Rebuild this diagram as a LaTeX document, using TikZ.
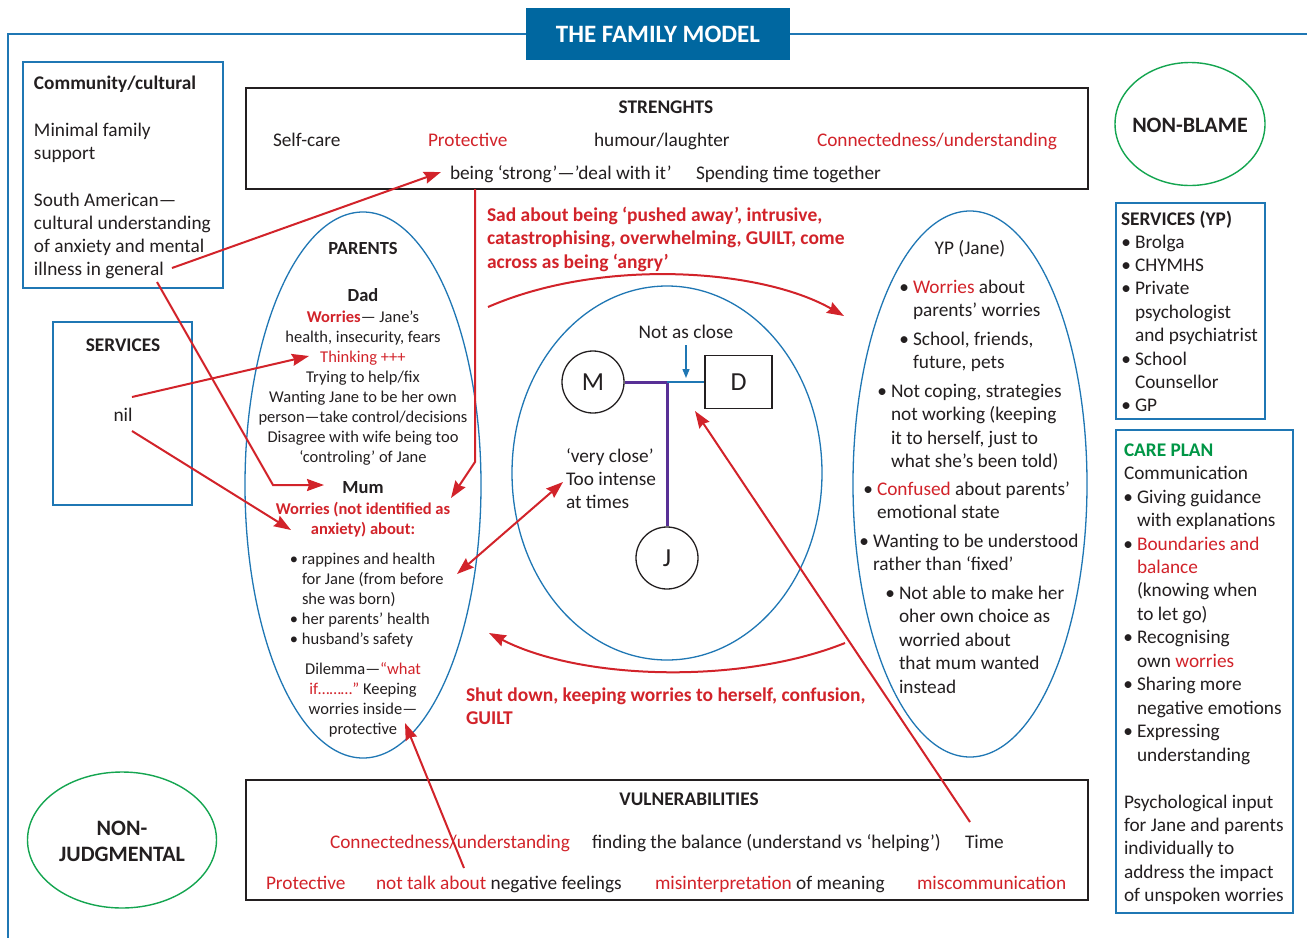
\documentclass[tikz,border=0pt]{standalone}
\usepackage{fontspec}
\setmainfont{Carlito}
\usetikzlibrary{shapes.geometric,arrows.meta}
\definecolor{fblue}{RGB}{31,119,180}
\definecolor{tblue}{RGB}{0,103,160}
\definecolor{fred}{RGB}{210,35,42}
\definecolor{fgreen}{RGB}{20,165,80}
\definecolor{cgreen}{RGB}{0,150,70}
\definecolor{ink}{RGB}{35,31,32}
\definecolor{fpurple}{RGB}{88,48,150}
\newcommand{\mybul}{\llap{•\hspace{4pt}}}
\newcommand{\rd}[1]{\textcolor{fred}{#1}}
\tikzset{
  tx/.style n args={3}{font=\fontsize{#1}{#2}\selectfont#3, inner sep=0pt, outer sep=0pt, yshift={(0.7*#2-0.3*#1-1.3)*1pt}},
  ta/.style={tx={19.3}{23.3}{}},
  tab/.style={tx={19.3}{23.3}{\bfseries}},
  ty/.style={tx={19.3}{23.5}{}},
  tp/.style={tx={16.5}{20}{}},
  tpb/.style={tx={16.5}{20}{\bfseries}},
  thb/.style={tx={18.5}{22}{\bfseries}},
  tr/.style={tx={19.5}{23.5}{\bfseries}, text=fred},
  lft/.style={anchor=north west, align=left},
  ctr/.style={anchor=north, align=center},
  outerframe/.style={draw=fblue, line width=1.4pt},
  bluebox/.style={draw=fblue, line width=1.6pt, inner sep=0pt},
  blackbox/.style={draw=ink, line width=1.4pt, inner sep=0pt},
  oval/.style={ellipse, draw=fblue, line width=1.3pt, inner sep=0pt},
  greenoval/.style={ellipse, draw=fgreen, line width=1.4pt, inner sep=0pt},
  person/.style={draw=ink, line width=1.3pt, inner sep=0pt, font=\fontsize{26}{30}\selectfont},
  rarrow/.style={draw=fred, line width=2pt, -{Stealth[length=17pt,width=12pt,inset=2pt]}},
  rdouble/.style={draw=fred, line width=2pt, {Stealth[length=17pt,width=12pt,inset=2pt]}-{Stealth[length=17pt,width=12pt,inset=2pt]}},
}
\begin{document}
\begin{tikzpicture}[x=1pt,y=-1pt, every node/.append style={text=ink}]
\useasboundingbox (0,0) rectangle (1307,938);
\fill[white] (0,0) rectangle (1307,938);
\draw[outerframe] (1307,34) -- (8,34) -- (8,938);
\node[fill=tblue, minimum width=264pt, minimum height=52pt, inner sep=0pt, text=white, font=\fontsize{25}{29}\selectfont\bfseries] (title) at (658,34) {THE FAMILY MODEL};

% boxes and ovals
\node[bluebox, minimum width=200pt, minimum height=226pt] (comm) at (123,175) {};
\node[bluebox, minimum width=139pt, minimum height=183pt] (serv) at (122.5,413.5) {};
\node[blackbox, minimum width=842pt, minimum height=101pt] (str) at (667,138.5) {};
\node[blackbox, minimum width=842pt, minimum height=120pt] (vul) at (667,840) {};
\node[bluebox, minimum width=149pt, minimum height=216pt] (servyp) at (1190.5,311) {};
\node[bluebox, minimum width=177pt, minimum height=483pt] (care) at (1204.5,671.5) {};
\node[greenoval, minimum width=150pt, minimum height=123pt] (nonblame) at (1190,124) {};
\node[greenoval, minimum width=189pt, minimum height=136pt] (nonjudg) at (122,840) {};
\node[oval, minimum width=236pt, minimum height=546pt] (parents) at (363,485) {};
\node[oval, minimum width=310pt, minimum height=374pt] (family) at (667,473) {};
\node[oval, minimum width=234pt, minimum height=546pt] (yp) at (970,484) {};

\node[font=\fontsize{22}{26}\selectfont\bfseries, inner sep=0pt] (nbtext) at (1190,125) {NON-BLAME};
\node[font=\fontsize{22}{26}\selectfont\bfseries, inner sep=0pt, align=center] (njtext) at (122,841) {NON-\\JUDGMENTAL};

% community / services
\node[tab, lft] (commh) at (34,82) {\strut Community/cultural};
\node[ta, lft] (commt1) at (34,129) {\strut Minimal family\\support};
\node[ta, lft] (commt2) at (34,199) {\strut South American—\\cultural understanding\\of anxiety and mental\\illness in general};
\node[tab, ctr] (servh) at (123,344) {\strut SERVICES};
\node[ta, ctr] (nil) at (123,414) {\strut nil};

% strengths
\node[tab, ctr] (strh) at (666,106) {\strut STRENGHTS};
\node[ta, lft] (s1) at (273,139) {\strut Self-care};
\node[ta, lft, text=fred] (s2) at (428,139) {\strut Protective};
\node[ta, lft] (s3) at (594,139) {\strut humour/laughter};
\node[ta, lft, text=fred] (s4) at (817,139) {\strut Connectedness/understanding};
\node[ta, lft] (s5) at (450,172) {\strut being ‘strong’—’deal with it’};
\node[ta, lft] (s6) at (696,172) {\strut Spending time together};

% vulnerabilities
\node[tab, ctr] (vulh) at (689,798) {\strut VULNERABILITIES};
\node[ta, lft, text=fred] (v1) at (330,841) {\strut Connectedness/understanding};
\node[ta, lft] (v2) at (592,841) {\strut finding the balance (understand vs ‘helping’)};
\node[ta, lft] (v3) at (965,841) {\strut Time};
\node[ta, lft, text=fred] (v4) at (266,882) {\strut Protective};
\node[ta, lft] (v5) at (376,882) {\strut \rd{not talk about} negative feelings};
\node[ta, lft] (v6) at (655,882) {\strut \rd{misinterpretation} of meaning};
\node[ta, lft, text=fred] (v7) at (917,882) {\strut miscommunication};

% parents
\node[thb, ctr] (parh) at (363,248) {\strut PARENTS};
\node[thb, ctr] (dad) at (363,295) {\strut Dad};
\node[tp, ctr] (dadt) at (363,316) {\strut \textbf{\rd{Worries}}— Jane’s\\health, insecurity, fears\\\rd{Thinking +++}\\Trying to help/fix\\Wanting Jane to be her own\\person—take control/decisions\\Disagree with wife being too\\‘controling’ of Jane};
\node[thb, ctr] (mum) at (363,487) {\strut Mum};
\node[tpb, ctr, text=fred] (mumw) at (363,508) {\strut Worries (not identified as\\anxiety) about:};
\node[tp, lft] (mumb) at (302,558) {\strut\mybul rappines and health\\for Jane (from before\\she was born)\\\mybul her parents’ health\\\mybul husband’s safety};
\node[tp, ctr] (dilem) at (363,668) {\strut Dilemma—\rd{“what}\\\rd{if………”} Keeping\\worries inside—\\protective};

% family diagram
\node[ta, ctr] (nac) at (686,331) {\strut Not as close};
\node[person, circle, minimum size=62pt] (M) at (593,382) {M};
\node[person, rectangle, minimum width=67pt, minimum height=53pt] (D) at (738.5,382) {D};
\node[person, circle, minimum size=62pt] (J) at (667,558) {J};
\coordinate (mj) at (J.north |- M.east);
\draw[fpurple, line width=3pt] (M.east) -- (mj) -- (J.north);
\draw[fblue, line width=1.3pt] (mj) -- (D.west);
\coordinate (nacend) at (686,378);
\draw[fblue, line width=1.3pt, -{Triangle[length=9pt,width=7pt]}] (nac.south) -- (nacend);
\node[ta, lft] (vclose) at (566,455) {\strut ‘very close’\\Too intense\\at times};

% YP
\node[ty, ctr] (yph) at (970,247) {\strut YP (Jane)};
\node[ty, lft] (y1) at (913,286) {\strut\mybul\rd{Worries} about\\parents’ worries};
\node[ty, lft] (y2) at (913,338) {\strut\mybul School, friends,\\future, pets};
\node[ty, lft] (y3) at (891,390) {\strut\mybul Not coping, strategies\\not working (keeping\\it to herself, just to\\what she’s been told)};
\node[ty, lft] (y4) at (877,488) {\strut\mybul\rd{Confused} about parents’\\emotional state};
\node[ty, lft] (y5) at (873,540) {\strut\mybul Wanting to be understood\\rather than ‘fixed’};
\node[ty, lft] (y6) at (899,592) {\strut\mybul Not able to make her\\oher own choice as\\worried about\\that mum wanted\\instead};

% red comments
\node[tr, lft] (sad) at (487,214) {\strut Sad about being ‘pushed away’, intrusive,\\catastrophising, overwhelming, GUILT, come\\across as being ‘angry’};
\node[tr, lft] (shut) at (466,694) {\strut Shut down, keeping worries to herself, confusion,\\GUILT};

% services YP
\node[tab, lft] (syph) at (1121,218) {\strut SERVICES (YP)};
\node[tx={19.3}{23.4}{}, lft] (sypl) at (1135,241) {\strut\mybul Brolga\\\mybul CHYMHS\\\mybul Private\\psychologist\\and psychiatrist\\\mybul School\\Counsellor\\\mybul GP};

% care plan
\node[tab, lft, text=cgreen] (careh) at (1124,449) {\strut CARE PLAN};
\node[tx={19.3}{23.45}{}, lft] (comm2) at (1124,472) {\strut Communication};
\node[tx={19.3}{23.45}{}, lft] (carel) at (1137,496) {\strut\mybul Giving guidance\\with explanations\\\mybul\rd{Boundaries and}\\\rd{balance}\\(knowing when\\to let go)\\\mybul Recognising\\own \rd{worries}\\\mybul Sharing more\\negative emotions\\\mybul Expressing\\understanding};
\node[tx={19.3}{23.3}{}, lft] (psy) at (1124,801) {\strut Psychological input\\for Jane and parents\\individually to\\address the impact\\of unspoken worries};

% red arrows
\coordinate (a1s) at (172,268); \coordinate (a1e) at (441,172);
\draw[rarrow] (a1s) -- (a1e);
\coordinate (a2s) at (157,282); \coordinate (a2m) at (273,485); \coordinate (a2e) at (324,485);
\draw[rarrow] (a2s) -- (a2m) -- (a2e);
\coordinate (a3s) at (132,397); \coordinate (a3e) at (309,356);
\draw[rarrow] (a3s) -- (a3e);
\coordinate (a4s) at (132,431); \coordinate (a4e) at (291,530);
\draw[rarrow] (a4s) -- (a4e);
\coordinate (a5s) at (475,189); \coordinate (a5m) at (475,462); \coordinate (a5e) at (451,498);
\draw[rarrow] (a5s) -- (a5m) -- (a5e);
\coordinate (a6s) at (457,574); \coordinate (a6e) at (563,482);
\draw[rdouble] (a6s) -- (a6e);
\coordinate (a7s) at (488,307); \coordinate (a7e) at (844,316);
\draw[rarrow] (a7s) .. controls (600,258) and (760,268) .. (a7e);
\coordinate (a8s) at (845,643); \coordinate (a8e) at (489,633);
\draw[rarrow] (a8s) .. controls (740,685) and (580,680) .. (a8e);
\coordinate (a9s) at (970,822); \coordinate (a9e) at (695,411);
\draw[rarrow] (a9s) -- (a9e);
\coordinate (a10s) at (464,868); \coordinate (a10e) at (405,723);
\draw[rarrow] (a10s) -- (a10e);
\end{tikzpicture}
\end{document}
